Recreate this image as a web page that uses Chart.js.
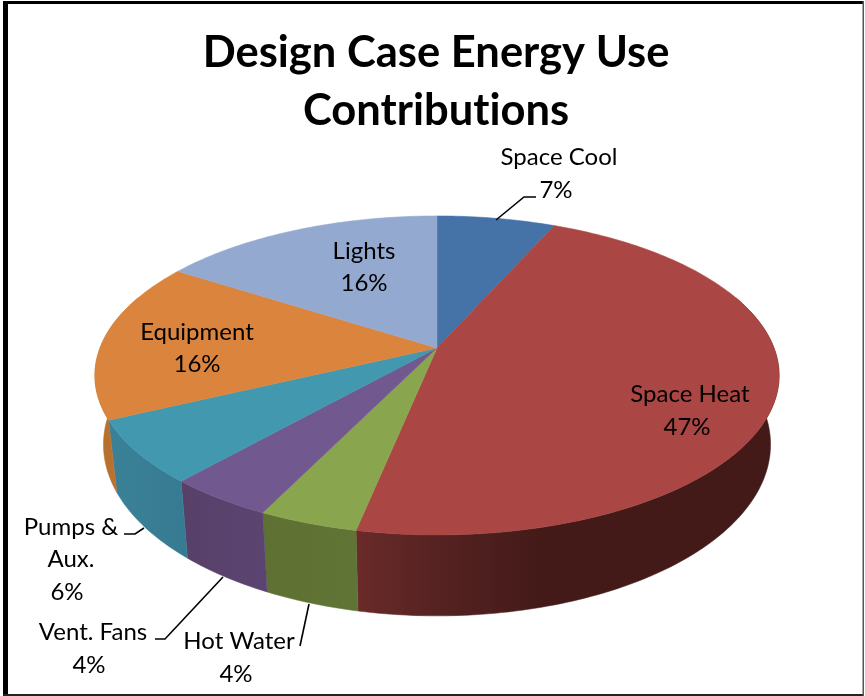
<!DOCTYPE html>
<html><head><meta charset="utf-8">
<style>html,body{margin:0;padding:0;background:#fff}canvas{display:block}#w{width:865px;height:696px;position:relative}</style>
<script src="https://cdn.jsdelivr.net/npm/chart.js@4"></script></head>
<body><div id="w"><canvas id="c" width="865" height="696"></canvas></div>
<script>
const categories = ["Space Cool","Space Heat","Hot Water","Vent. Fans","Pumps & Aux.","Equipment","Lights"];
const values = [6.6,46.6,4.0,4.3,6.4,16.2,15.9];
const topColors = ["#4572a7","#aa4643","#89a54e","#71588f","#4198af","#db843d","#93a9cf"];
const titleLines = ["Design Case Energy Use","Contributions"];

// view: perspective projection of the pie's unit circle onto the page
const CX=437, CY=348, RX=337, KY=154.8, P=-0.172, DEPTH=67, SHRINK=0.975;
const sideStops=[
 ["#3a5f8c","#3a5f8c"],
 ["#431a18","#6b2b2a"],
 ["#5f7535","#5f7033"],
 ["#5b4470","#574068"],
 ["#377b92","#3a8197"],
 ["#b8702f","#c87a35"],
 ["#7c8fb0","#7c8fb0"]
];
function proj(a,r,z){
  const u=Math.cos(a)*r, v=Math.sin(a)*r, w=1+P*v;
  return z ? [CX+SHRINK*RX*u/w, CY+KY*v/w+DEPTH/w] : [CX+RX*u/w, CY+KY*v/w];
}
const STEP=Math.PI/180;
function arcPts(a0,a1,z){const n=Math.max(2,Math.ceil((a1-a0)/STEP));const p=[];
  for(let i=0;i<=n;i++)p.push(proj(a0+(a1-a0)*i/n,1,z));return p;}

const pie3d={id:'pie3d',
 beforeDraw(chart){chart.ctx.letterSpacing='0.01px';},
 beforeDatasetDraw(chart,args){
  const ctx=chart.ctx, arcs=args.meta.data;
  const lim0=-0.35, lim1=Math.PI+0.35;
  arcs.forEach((el,i)=>{
    const a0=Math.max(el.startAngle,lim0), a1=Math.min(el.endAngle,lim1);
    if(a1<=a0)return;
    const t=arcPts(a0,a1,false), b=arcPts(a0,a1,true);
    const g=ctx.createLinearGradient(t[0][0],0,t[t.length-1][0],0);
    const s=sideStops[i];
    g.addColorStop(0,s[0]);
    if(i===1){g.addColorStop(.5,"#431a18");g.addColorStop(.75,"#522120");g.addColorStop(.95,"#642927");}
    g.addColorStop(1,s[1]);
    ctx.save();ctx.beginPath();
    t.forEach((p,k)=>k?ctx.lineTo(p[0],p[1]):ctx.moveTo(p[0],p[1]));
    b.reverse().forEach(p=>ctx.lineTo(p[0],p[1]));
    ctx.closePath();ctx.fillStyle=g;ctx.fill();ctx.strokeStyle=g;ctx.lineWidth=.5;ctx.stroke();ctx.restore();
  });
  arcs.forEach(el=>{
    const pts=arcPts(el.startAngle,el.endAngle,false);
    ctx.save();ctx.beginPath();ctx.moveTo(CX,CY);
    pts.forEach(p=>ctx.lineTo(p[0],p[1]));ctx.closePath();
    ctx.fillStyle=el.options.backgroundColor;ctx.fill();
    ctx.strokeStyle=el.options.backgroundColor;ctx.lineWidth=.5;ctx.stroke();ctx.restore();
  });
  return false;
 }};

// label text placement and leader lines (page layout only)
const labelLayout=[
 {lines:["Space Cool"],x:559,y:157,pct:[556,190],lead:[[496,220],[524,197],[536,197]]},
 {lines:["Space Heat"],x:690,y:394,pct:[687,427]},
 {lines:["Hot Water"],x:239,y:641,pct:[236,674],lead:[[309,604],[300,646]]},
 {lines:["Vent. Fans"],x:93,y:632,pct:[89,665],lead:[[223,577],[165,639],[155,639]]},
 {lines:["Pumps &","Aux."],x:71,y:527,pct:[67,592],lead:[[144,528],[135,534],[124,534]]},
 {lines:["Equipment"],x:197,y:332,pct:[197,364]},
 {lines:["Lights"],x:364,y:251,pct:[364,283]}
];
const labelsPlugin={id:'labels3d',
 afterDraw(chart){
  const ctx=chart.ctx;ctx.save();
  ctx.fillStyle="#000";
  ctx.fillRect(3,1,861,3);
  ctx.fillRect(3,1,5,695);
  ctx.fillStyle="#222";ctx.fillRect(3,694,861,2);
  ctx.fillStyle="#555";ctx.fillRect(862.5,1,1.5,695);
  ctx.restore();
  ctx.save();
  ctx.fillStyle="#000";ctx.textAlign="center";ctx.textBaseline="middle";
  ctx.font="24px Lato, Carlito, sans-serif";
  const tot=values.reduce((a,b)=>a+b,0);
  labelLayout.forEach((l,i)=>{
    l.lines.forEach((t,k)=>ctx.fillText(t,l.x,l.y+k*32.5));
    ctx.fillText(Math.round(values[i]/tot*100)+"%",l.pct[0],l.pct[1]);
    if(l.lead){ctx.strokeStyle="#000";ctx.lineWidth=1.6;ctx.beginPath();
      l.lead.forEach((p,k)=>k?ctx.lineTo(p[0],p[1]):ctx.moveTo(p[0],p[1]));ctx.stroke();}
  });
  ctx.restore();
 }};

new Chart(document.getElementById('c'),{
 type:'pie',
 data:{labels:categories,datasets:[{data:values,backgroundColor:topColors,borderWidth:0}]},
 options:{responsive:false,animation:false,
  layout:{padding:{left:7}},
  plugins:{legend:{display:false},tooltip:{enabled:false},
   title:{display:true,text:titleLines,color:"#000",font:{family:"Lato, Carlito, sans-serif",size:43.5,weight:"bold",lineHeight:1.33},padding:{top:24,bottom:0}}}},
 plugins:[pie3d,labelsPlugin]
});
</script></body></html>
